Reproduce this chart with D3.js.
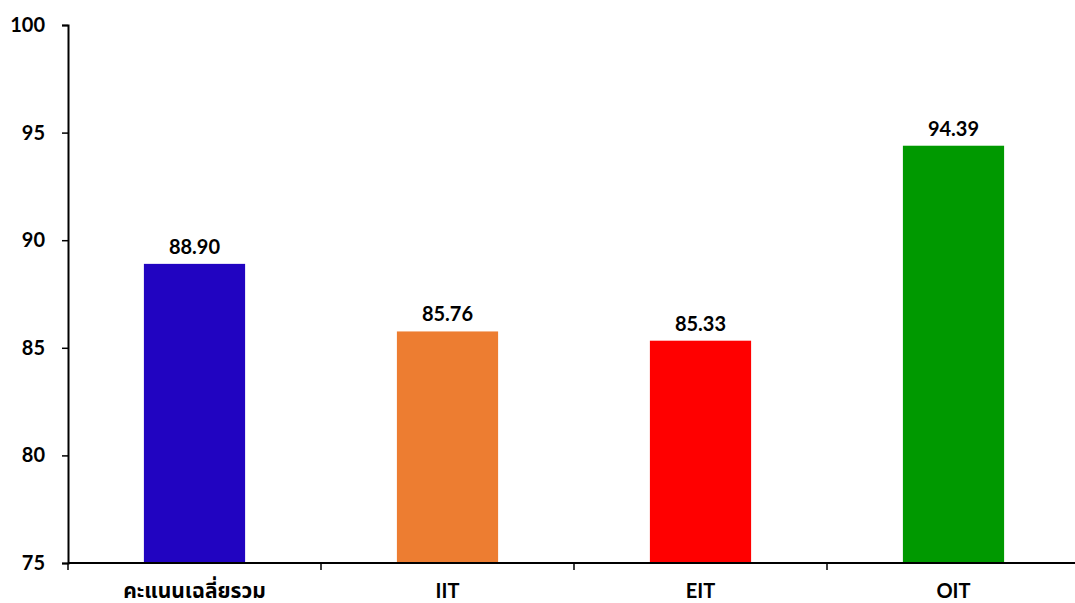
<!DOCTYPE html>
<html>
<head>
<meta charset="utf-8">
<script src="https://cdn.jsdelivr.net/npm/d3@7"></script>
<style>
  body { margin: 0; background: #fff; }
  text { font-family: "Lato", "Noto Sans", "Noto Sans Thai", "DejaVu Sans", sans-serif; font-weight: bold; }
</style>
</head>
<body>
<div id="chart"></div>
<script>
const width = 1075;
const height = 603;
const margin = { top: 25, right: -5, bottom: 40, left: 68 };

const categories = ["คะแนนเฉลี่ยรวม", "IIT", "EIT", "OIT"];
const values = [88.90, 85.76, 85.33, 94.39];
const colors = ["#2104C1", "#ED7D31", "#FF0000", "#009900"];
const yTicks = [75, 80, 85, 90, 95, 100];

const svg = d3.select("#chart").append("svg")
    .attr("width", width)
    .attr("height", height);

const x = d3.scaleBand()
    .domain(categories)
    .range([margin.left, width - margin.right]);

const y = d3.scaleLinear()
    .domain([75, 100])
    .range([height - margin.bottom, margin.top]);

const barW = x.bandwidth() * 0.4;

// bars
svg.selectAll("rect.bar")
    .data(categories)
    .enter().append("rect")
    .attr("class", "bar")
    .attr("x", d => x(d) + (x.bandwidth() - barW) / 2)
    .attr("width", barW)
    .attr("y", (d, i) => y(values[i]))
    .attr("height", (d, i) => y(75) - y(values[i]))
    .attr("fill", (d, i) => colors[i]);

// value labels
svg.selectAll("text.val")
    .data(categories)
    .enter().append("text")
    .attr("class", "val")
    .attr("x", d => x(d) + x.bandwidth() / 2)
    .attr("y", (d, i) => y(values[i]) - 10)
    .attr("text-anchor", "middle")
    .style("font-size", "20px")
    .text((d, i) => values[i].toFixed(2));

// y axis
const yAxis = svg.append("g")
    .attr("transform", `translate(${margin.left},0)`)
    .call(d3.axisLeft(y).tickValues(yTicks).tickSize(6).tickPadding(17));
yAxis.select(".domain").attr("stroke-width", 2);
yAxis.selectAll(".tick line").attr("stroke-width", 1.5);
yAxis.selectAll("text").style("font-size", "20px").attr("fill", "#000");

// x axis with ticks at band boundaries
const xAxis = svg.append("g")
    .attr("transform", `translate(0,${y(75)})`);
xAxis.append("line")
    .attr("x1", margin.left).attr("x2", width)
    .attr("stroke", "#000").attr("stroke-width", 2);
xAxis.selectAll("line.bound")
    .data(categories)
    .enter().append("line")
    .attr("class", "bound")
    .attr("x1", d => x(d)).attr("x2", d => x(d))
    .attr("y1", 0).attr("y2", 7)
    .attr("stroke", "#000").attr("stroke-width", 1.5);
xAxis.selectAll("text")
    .data(categories)
    .enter().append("text")
    .attr("x", d => x(d) + x.bandwidth() / 2)
    .attr("y", 35)
    .attr("text-anchor", "middle")
    .style("font-size", (d, i) => i === 0 ? "21px" : "20px")
    .text(d => d);
</script>
</body>
</html>
